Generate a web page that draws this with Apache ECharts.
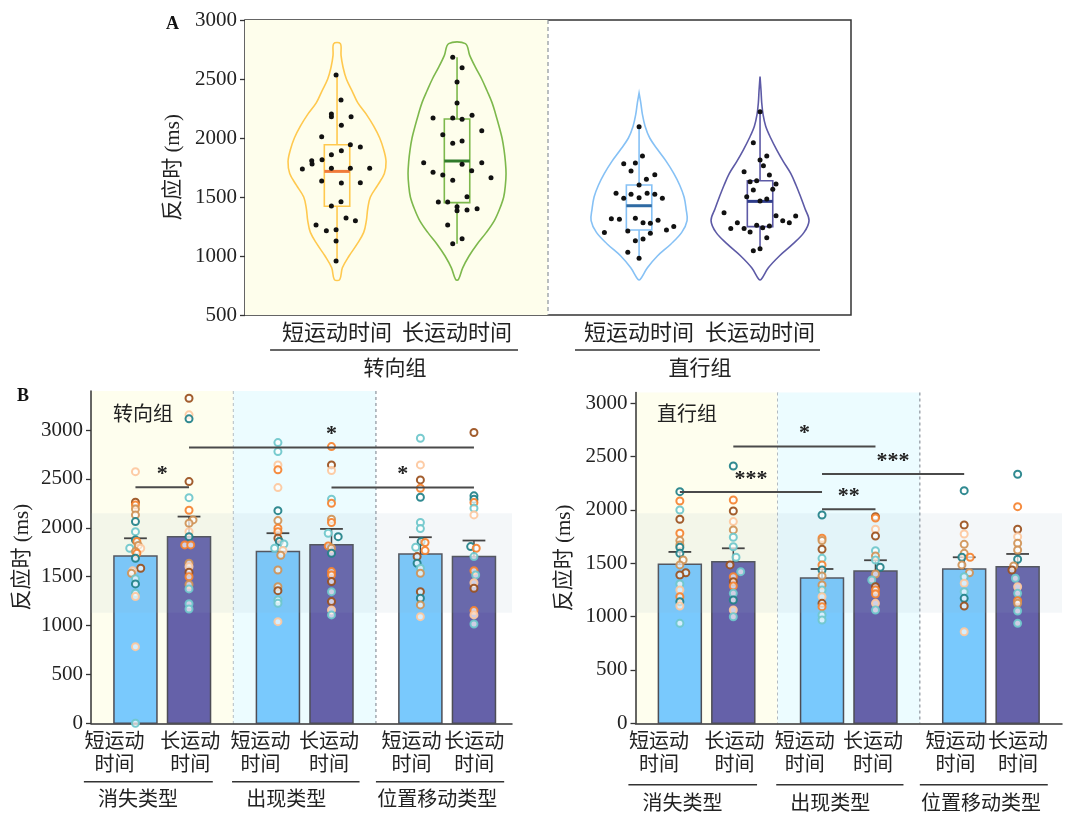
<!DOCTYPE html>
<html><head><meta charset="utf-8">
<script src="https://cdn.jsdelivr.net/npm/echarts@6/dist/echarts.min.js"></script>
<style>html,body{margin:0;padding:0;background:#fff}#c{width:1067px;height:814px}</style>
</head><body><div id="c"></div>
<script>
// ================= DATA =================
// Panel A
const violinCategories = ['短运动时间', '长运动时间', '短运动时间', '长运动时间'];
const violinGroups = ['转向组', '直行组'];
// violin outlines: [反应时 ms, relative half-width]
const violinProfile1 = [[2800,10],[2700,12],[2600,18],[2500,28],[2400,45],[2300,62],[2200,88],[2100,110],[2000,128],[1900,140],[1800,147],[1700,142],[1600,122],[1500,100],[1400,92],[1300,88],[1200,80],[1100,60],[1000,36],[900,16],[800,8]];
const violinProfile2 = [[2800,25],[2700,38],[2600,55],[2500,74],[2400,90],[2300,105],[2200,116],[2100,126],[2000,135],[1900,141],[1800,145],[1700,147],[1600,145],[1500,140],[1400,128],[1300,112],[1200,88],[1100,60],[1000,36],[900,17],[800,4]];
const violinProfile3 = [[2380,0],[2300,5],[2200,10],[2100,18],[2000,32],[1900,56],[1800,82],[1700,104],[1600,122],[1500,135],[1400,141],[1300,144],[1200,128],[1100,95],[1000,55],[900,25],[800,3]];
const violinProfile4 = [[2520,0],[2400,3],[2300,5],[2200,9],[2100,17],[2000,32],[1900,50],[1800,70],[1700,92],[1600,108],[1500,122],[1400,135],[1300,147],[1200,132],[1100,98],[1000,58],[900,25],[800,3]];
// box stats: [min, Q1, median, Q3, max]
const boxStats = [[958,1421,1717,1943,2534],[1104,1452,1805,2161,2684],[980,1220,1426,1602,2096],[1045,1249,1463,1638,2223]];
// individual points: [反应时 ms, jitter (category units)]
const violinPoints1 = [[2534,-0.008],[2322,0.033],[2203,-0.047],[2181,-0.047],[2181,0.117],[2107,0.036],[2011,-0.128],[1943,0.111],[1924,0.194],[1893,0.036],[1859,-0.047],[1808,-0.211],[1780,-0.208],[1816,-0.125],[1737,-0.289],[1743,-0.047],[1743,0.111],[1743,0.272],[1636,-0.128],[1619,0.036],[1621,0.194],[1460,0.033],[1424,-0.047],[1322,0.075],[1299,0.153],[1263,-0.175],[1215,-0.089],[1223,-0.008],[1127,-0.008],[958,-0.008]];
const violinPoints2 = [[2684,-0.036],[2596,0.042],[2475,0],[2297,0],[2169,-0.2],[2169,-0.036],[2158,0.042],[2192,0.125],[2062,0.206],[2028,-0.119],[1955,-0.036],[1975,0.042],[1791,-0.278],[1777,0.042],[1791,0.206],[1709,-0.2],[1686,-0.119],[1723,0.122],[1664,0.283],[1641,-0.036],[1503,0.083],[1458,-0.156],[1458,-0.078],[1418,0],[1384,0],[1390,0.083],[1401,0.167],[1263,-0.078],[1147,0.042],[1104,-0.036]];
const violinPoints3 = [[2096,0],[1847,0.028],[1782,-0.128],[1788,-0.031],[1720,-0.067],[1689,0.131],[1650,0.061],[1602,0],[1531,-0.192],[1489,-0.128],[1523,-0.067],[1494,0],[1531,0.067],[1523,0.131],[1489,0.194],[1316,-0.231],[1311,-0.164],[1319,-0.031],[1282,0.033],[1277,0.094],[1302,0.158],[1200,-0.289],[1212,-0.094],[1192,0.094],[1220,0.228],[1251,0.289],[1130,-0.031],[1144,0.033],[1031,-0.094],[980,0]];
const violinPoints4 = [[2223,0],[1960,-0.056],[1847,0.056],[1814,0],[1765,0.028],[1715,-0.133],[1686,0.078],[1630,-0.083],[1638,-0.028],[1610,0.133],[1559,-0.056],[1565,0.106],[1503,-0.111],[1483,0.056],[1466,0],[1367,-0.3],[1342,0.133],[1282,-0.189],[1299,0.189],[1282,0.244],[1339,0.297],[1234,-0.244],[1232,-0.133],[1203,-0.083],[1260,-0.028],[1240,0.022],[1254,0.078],[1155,0.056],[1045,-0.056],[1062,0]];

// Panel B
const barTickLabels = ['短运动\n时间', '长运动\n时间', '短运动\n时间', '长运动\n时间', '短运动\n时间', '长运动\n时间'];
const changeTypes = ['消失类型', '出现类型', '位置移动类型'];
const turnMeans = [1712, 1910, 1757, 1828, 1733, 1706];
const turnSE = [181, 205, 188, 161, 171, 164];
const straightMeans = [1490, 1515, 1362, 1427, 1446, 1468];
const straightSE = [116, 125, 84, 101, 110, 119];
// significance: [bar a, bar b, height ms, label]
const turnSig = [[0, 1, 2416, '*'], [1, 5, 2821, '*'], [3, 5, 2412, '*']];
const straightSig = [[0, 2, 2168, '***'], [1, 3, 2593, '*'], [2, 3, 2005, '**'], [2, 4, 2337, '***']];
// individual points per bar: [反应时 ms, colour group, jitter]
const turnPoints = [
  [[2575,3,0],[2262,4,0],[2234,2,0],[2193,5,0],[2132,5,0],[2064,0,0],[1961,1,0],[1876,0,0],[1859,2,0.01],[1820,5,0.02],[1791,1,-0.04],[1791,3,0.037],[1757,5,0],[1740,2,0.01],[1689,0,0],[1587,4,0.037],[1560,3,-0.02],[1535,5,-0.028],[1480,1,0],[1426,0,0],[1331,1,0],[1297,3,0],[784,3,0],[0,1,0]],
  [[3326,4,0],[3156,3,0],[3115,0,0],[2473,4,0],[2309,1,0],[2180,2,0],[2081,5,0.028],[2047,5,0],[1961,3,0],[1910,0,0],[1825,2,-0.03],[1825,2,0.012],[1638,5,0],[1603,3,0],[1546,4,0],[1500,2,0],[1420,5,0],[1375,1,0],[1224,1,0],[1170,1,0]],
  [[2872,1,0],[2780,1,0],[2644,3,0],[2593,2,0],[2412,3,0],[2176,0,0],[2074,5,0],[1996,2,0],[1961,2,0],[1893,4,0],[1860,0,0.01],[1835,1,0.042],[1791,1,-0.023],[1767,3,0.035],[1720,5,0.02],[1569,5,0],[1398,5,0],[1357,4,0],[1262,1,0],[1228,1,0],[1040,3,0]],
  [[2831,2,0],[2644,4,0],[2586,3,0],[2293,1,0],[2252,2,0],[2088,5,0],[2054,2,0],[1945,1,-0.023],[1910,0,0.047],[1815,2,-0.023],[1791,5,0],[1740,0,0],[1552,2,0],[1518,2,0],[1450,4,0],[1347,1,0],[1245,4,0],[1160,3,0],[1109,1,0]],
  [[2917,1,0],[2644,3,0],[2490,4,0],[2405,2,0],[2313,0,0],[2054,1,0],[1992,1,0],[1859,0,0.005],[1801,1,-0.033],[1850,2,0.033],[1767,2,0.033],[1706,4,-0.023],[1638,0,-0.023],[1587,1,0],[1535,5,0],[1347,4,0],[1279,0,0],[1211,5,0],[1091,3,0]],
  [[2975,4,0],[2327,0,0],[2293,0,0],[2258,2,0],[2200,1,0],[2132,3,0],[1808,0,-0.023],[1791,2,0.016],[1706,1,0],[1562,2,0],[1518,1,0.012],[1439,3,0],[1382,4,0],[1153,2,0],[1109,3,0],[1016,1,0]]
];
const straightPoints = [
  [[2171,0,0],[2083,2,0],[1999,1,0],[1912,4,0],[1781,2,0],[1712,5,0],[1671,5,0],[1649,0,0],[1593,0,0],[1530,5,0.023],[1484,5,0],[1411,4,0.042],[1390,4,0],[1306,1,0],[1249,3,0],[1187,2,0],[1140,0,0],[1099,3,0],[937,1,0]],
  [[2411,0,0],[2093,2,0],[1990,4,0],[1890,3,0],[1812,5,0],[1743,1,0],[1655,1,0],[1556,1,0.019],[1484,4,-0.023],[1421,1,0.052],[1374,2,0],[1327,4,0],[1287,2,0],[1218,1,0],[1156,0,0],[1062,3,0],[999,1,0]],
  [[1952,0,0],[1734,2,0],[1712,5,0],[1631,4,0],[1546,1,0],[1484,2,0],[1437,0,0],[1380,5,0],[1296,5,0],[1249,1,0],[1187,3,0],[1124,4,0],[1093,2,0],[1015,1,0],[968,1,0]],
  [[1936,4,0],[1924,2,0],[1818,3,0],[1755,4,0],[1618,1,0],[1568,5,0],[1530,1,0],[1462,0,0.033],[1399,5,0],[1343,1,-0.026],[1280,4,0],[1249,2,0],[1212,2,0],[1124,3,0],[1062,1,0]],
  [[2180,0,0],[1858,4,0],[1774,3,0],[1677,5,0],[1593,5,0],[1556,0,-0.016],[1556,2,0.042],[1484,5,-0.016],[1411,5,0.037],[1374,1,0],[1312,3,0],[1233,1,0],[1171,0,0],[1099,4,0],[858,3,0]],
  [[2334,0,0],[2030,2,0],[1818,4,0],[1749,3,0],[1687,5,0],[1624,5,0],[1537,0,0],[1474,5,-0.028],[1437,4,-0.04],[1359,1,-0.016],[1280,3,0],[1218,1,0],[1149,2,0],[1124,5,0],[1052,1,0],[937,1,0]]
];
const yTicksA = [500, 1000, 1500, 2000, 2500, 3000];
const yTicksB = [0, 500, 1000, 1500, 2000, 2500, 3000];

// ================= LAYOUT / STYLE =================
const FONT = "'Liberation Serif','Noto Sans CJK SC',serif";
const A_X = [1, 2, 3.517, 4.525];
const A_MIN = 0.233, A_MAX = 5.283, A_SPLIT = 2.758;
const A_BRACKETS = [[0.442, 2.508, 1.483], [2.983, 5.025, 4.025]];
const VW = 1 / 360;
const BOX_HW = 0.106;
const violinColors = ['#ffc94f', '#7db84c', '#86c1f5', '#5d5aa6'];
const medianColors = ['#f07b3b', '#2f7a2a', '#2e6aa3', '#2e3c8a'];
const BAR_X = [0.312, 0.688, 1.312, 1.688, 2.312, 2.688];
const BAR_W = 0.302;
const LABEL_X = [0.165, 0.697, 1.19, 1.67, 2.25, 2.69];
const B_BRACKETS = [[-0.05, 0.855, 0.33], [0.99, 1.885, 1.37], [2.0, 2.9, 2.43]];
const barColors = ['#79c9fd', '#6561a9'];
const dotColors = ['#1f8088', '#6ec7cb', '#f5822f', '#fdc89e', '#9a4f1c', '#cf9256'];

const violinProfiles = [violinProfile1, violinProfile2, violinProfile3, violinProfile4];
const violinPoints = [violinPoints1, violinPoints2, violinPoints3, violinPoints4];

function nearestLabel(list, pos, v) {
  let best = 0, bd = 1e9;
  pos.forEach((p, i) => { const d = Math.abs(p - v); if (d < bd) { bd = d; best = i; } });
  return list[best];
}

const series = [];
// ---------- Panel A ----------
series.push({
  type: 'custom', xAxisIndex: 0, yAxisIndex: 0, silent: true, z: 0,
  data: [[A_MIN, A_SPLIT]],
  renderItem(params, api) {
    const p0 = api.coord([api.value(0), 3000]);
    const p1 = api.coord([api.value(1), 500]);
    return {
      type: 'group', children: [
        { type: 'rect', shape: { x: p0[0], y: p0[1], width: p1[0] - p0[0], height: p1[1] - p0[1] }, style: { fill: '#fefeec' } },
        { type: 'line', shape: { x1: p1[0], y1: p0[1], x2: p1[0], y2: p1[1] }, style: { stroke: '#8c939c', lineWidth: 1.2, lineDash: [4, 3] } }
      ]
    };
  }
});
series.push({
  type: 'custom', xAxisIndex: 0, yAxisIndex: 0, silent: true, z: 2,
  data: A_X.map((x, i) => [x, i]),
  renderItem(params, api) {
    const i = params.dataIndex, xc = api.value(0);
    const prof = violinProfiles[i];
    const pts = [];
    prof.forEach(([v, w]) => pts.push(api.coord([xc + w * VW, v])));
    for (let k = prof.length - 1; k >= 0; k--) pts.push(api.coord([xc - prof[k][1] * VW, prof[k][0]]));
    const s = boxStats[i];
    const tl = api.coord([xc - BOX_HW, s[3]]), br = api.coord([xc + BOX_HW, s[1]]);
    const cMin = api.coord([xc, s[0]]), cMax = api.coord([xc, s[4]]);
    const m0 = api.coord([xc - BOX_HW, s[2]]), m1 = api.coord([xc + BOX_HW, s[2]]);
    const col = violinColors[i];
    return {
      type: 'group', children: [
        { type: 'polygon', shape: { points: pts, smooth: 0.35 }, style: { fill: 'none', stroke: col, lineWidth: 1.6 } },
        { type: 'line', shape: { x1: cMax[0], y1: cMax[1], x2: cMax[0], y2: tl[1] }, style: { stroke: col, lineWidth: 1.6 } },
        { type: 'line', shape: { x1: cMin[0], y1: br[1], x2: cMin[0], y2: cMin[1] }, style: { stroke: col, lineWidth: 1.6 } },
        { type: 'rect', shape: { x: tl[0], y: tl[1], width: br[0] - tl[0], height: br[1] - tl[1] }, style: { fill: 'none', stroke: col, lineWidth: 1.6 } },
        { type: 'line', shape: { x1: m0[0], y1: m0[1], x2: m1[0], y2: m1[1] }, style: { stroke: medianColors[i], lineWidth: 3 } }
      ]
    };
  }
});
series.push({
  type: 'scatter', xAxisIndex: 0, yAxisIndex: 0, z: 5, symbolSize: 5, silent: true,
  itemStyle: { color: '#111', opacity: 1 },
  data: violinPoints.flatMap((pts, i) => pts.map(([v, dx]) => [A_X[i] + dx, v]))
});
series.push({
  type: 'custom', xAxisIndex: 0, yAxisIndex: 0, silent: true, clip: false, z: 5,
  data: A_BRACKETS,
  renderItem(params, api) {
    const a = api.coord([api.value(0), 500]), b = api.coord([api.value(1), 500]), c = api.coord([api.value(2), 500]);
    return {
      type: 'group', children: [
        { type: 'line', shape: { x1: a[0], y1: a[1] + 35, x2: b[0], y2: b[1] + 35 }, style: { stroke: '#333', lineWidth: 1.5 } },
        { type: 'text', x: c[0], y: c[1] + 54, style: { text: violinGroups[params.dataIndex], fontSize: 21, fontFamily: FONT, fill: '#222', align: 'center', verticalAlign: 'middle' } }
      ]
    };
  }
});

// ---------- Panel B builder ----------
function buildB(ax, yMax, means, se, sig, points, bandLo, bandHi, brOff) {
  series.push({
    type: 'custom', xAxisIndex: ax, yAxisIndex: ax, silent: true, z: 0,
    data: [[0, 1, 0], [1, 2, 1]],
    renderItem(params, api) {
      const p0 = api.coord([api.value(0), yMax]);
      const p1 = api.coord([api.value(1), 0]);
      return {
        type: 'group', children: [
          { type: 'rect', shape: { x: p0[0], y: p0[1], width: p1[0] - p0[0], height: p1[1] - p0[1] }, style: { fill: params.dataIndex === 0 ? '#fefeee' : '#ecfcff' } },
          { type: 'line', shape: { x1: p1[0], y1: p0[1], x2: p1[0], y2: p1[1] }, style: { stroke: '#8c939c', lineWidth: 1.2, lineDash: [3, 3] } }
        ]
      };
    }
  });
  series.push({
    type: 'custom', xAxisIndex: ax, yAxisIndex: ax, silent: true, z: 2,
    data: means.map((m, i) => [BAR_X[i], m, se[i]]),
    renderItem(params, api) {
      const i = params.dataIndex, xc = api.value(0), m = api.value(1);
      const tl = api.coord([xc - BAR_W / 2, m]), br = api.coord([xc + BAR_W / 2, 0]);
      return { type: 'rect', shape: { x: tl[0], y: tl[1], width: br[0] - tl[0], height: br[1] - tl[1] }, style: { fill: barColors[i % 2], stroke: '#4d4d55', lineWidth: 1.5 } };
    }
  });
  series.push({
    type: 'custom', xAxisIndex: ax, yAxisIndex: ax, silent: true, z: 3,
    data: [[bandLo, bandHi]],
    renderItem(params, api) {
      const p0 = api.coord([0, api.value(1)]);
      const p1 = api.coord([0, api.value(0)]);
      const w = params.coordSys;
      return { type: 'rect', shape: { x: w.x, y: p0[1], width: w.width, height: p1[1] - p0[1] }, style: { fill: 'rgba(150,172,195,0.10)' } };
    }
  });
  series.push({
    type: 'custom', xAxisIndex: ax, yAxisIndex: ax, silent: true, z: 4,
    data: means.map((m, i) => [BAR_X[i], m, se[i]]),
    renderItem(params, api) {
      const xc = api.value(0), m = api.value(1), e = api.value(2);
      const a = api.coord([xc, m]), b = api.coord([xc, m + e]);
      const c0 = api.coord([xc - 0.08, m + e]), c1 = api.coord([xc + 0.08, m + e]);
      return {
        type: 'group', children: [
          { type: 'line', shape: { x1: a[0], y1: a[1], x2: b[0], y2: b[1] }, style: { stroke: '#444', lineWidth: 1.5 } },
          { type: 'line', shape: { x1: c0[0], y1: c0[1], x2: c1[0], y2: c1[1] }, style: { stroke: '#444', lineWidth: 1.8 } }
        ]
      };
    }
  });
  series.push({
    type: 'scatter', xAxisIndex: ax, yAxisIndex: ax, silent: true, z: 5, symbolSize: 7,
    data: points.flatMap((pts, i) => pts.map(([v, c, dx]) => ({
      value: [BAR_X[i] + dx, v],
      itemStyle: { color: 'rgba(255,255,255,0.75)', borderColor: dotColors[c], borderWidth: 2, opacity: 0.92 }
    })))
  });
  series.push({
    type: 'custom', xAxisIndex: ax, yAxisIndex: ax, silent: true, z: 6, clip: false,
    data: sig.map(s => [BAR_X[s[0]], BAR_X[s[1]], s[2]]),
    renderItem(params, api) {
      const a = api.coord([api.value(0), api.value(2)]), b = api.coord([api.value(1), api.value(2)]);
      return {
        type: 'group', children: [
          { type: 'line', shape: { x1: a[0], y1: a[1], x2: b[0], y2: b[1] }, style: { stroke: '#4a4a4a', lineWidth: 2 } },
          { type: 'text', x: (a[0] + b[0]) / 2, y: a[1] - 2, style: { text: sig[params.dataIndex][3], fontSize: 22, fontWeight: 'bold', fontFamily: FONT, fill: '#222', align: 'center', verticalAlign: 'bottom' } }
        ]
      };
    }
  });
  series.push({
    type: 'custom', xAxisIndex: ax, yAxisIndex: ax, silent: true, z: 6, clip: false,
    data: B_BRACKETS,
    renderItem(params, api) {
      const a = api.coord([api.value(0), 0]), b = api.coord([api.value(1), 0]), c = api.coord([api.value(2), 0]);
      return {
        type: 'group', children: [
          { type: 'line', shape: { x1: a[0], y1: a[1] + brOff[0], x2: b[0], y2: b[1] + brOff[0] }, style: { stroke: '#333', lineWidth: 1.5 } },
          { type: 'text', x: c[0], y: c[1] + brOff[1], style: { text: changeTypes[params.dataIndex], fontSize: 20, fontFamily: FONT, fill: '#222', align: 'center', verticalAlign: 'middle' } }
        ]
      };
    }
  });
}
buildB(1, 3400, turnMeans, turnSE, turnSig, turnPoints, 1130, 2150, [58.5, 77]);
buildB(2, 3100, straightMeans, straightSE, straightSig, straightPoints, 1037, 1968, [61.5, 81]);

const numText = { fontSize: 21, fontFamily: FONT, color: '#222' };
const nameText = { fontSize: 21, fontFamily: FONT, color: '#222' };
const plainNum = v => String(v);
function yAxisB(gi, yMax, gap) {
  return {
    gridIndex: gi, type: 'value', min: 0, max: yMax, interval: 500,
    name: '反应时 (ms)', nameLocation: 'middle', nameGap: gap, nameTextStyle: nameText,
    axisLine: { show: true, lineStyle: { color: '#333', width: 1.5 } },
    axisTick: { show: true, inside: false, length: 5, lineStyle: { color: '#333', width: 1.3 }, customValues: yTicksB },
    axisLabel: Object.assign({ margin: 8, customValues: yTicksB, formatter: plainNum }, numText),
    splitLine: { show: false }
  };
}
function xAxisB(gi, max) {
  return {
    gridIndex: gi, type: 'value', min: 0, max: max,
    axisLine: { show: true, onZero: false, lineStyle: { color: '#333', width: 1.5 } },
    axisTick: { show: false },
    splitLine: { show: false },
    axisLabel: {
      margin: 8, lineHeight: 23, customValues: LABEL_X, fontSize: 20, fontFamily: FONT, color: '#222',
      interval: 0, hideOverlap: false, showMinLabel: true, showMaxLabel: true,
      formatter: v => nearestLabel(barTickLabels, LABEL_X, v)
    }
  };
}

const option = {
  backgroundColor: '#fff',
  animation: false,
  title: [
    { text: 'A', left: 161, top: 10, textStyle: { fontSize: 18, fontWeight: 'bold', fontFamily: FONT, color: '#111' } },
    { text: 'B', left: 12, top: 382, textStyle: { fontSize: 18, fontWeight: 'bold', fontFamily: FONT, color: '#111' } },
    { text: '转向组', left: 108, top: 401, textStyle: { fontSize: 20, fontWeight: 'normal', fontFamily: FONT, color: '#222' } },
    { text: '直行组', left: 652, top: 401, textStyle: { fontSize: 20, fontWeight: 'normal', fontFamily: FONT, color: '#222' } }
  ],
  grid: [
    { left: 245, top: 20, width: 606, height: 295, show: true, borderColor: '#333', borderWidth: 1.5, backgroundColor: 'transparent', containLabel: false },
    { left: 91, top: 391, width: 421, height: 332.3, containLabel: false },
    { left: 635.5, top: 392.5, width: 426.5, height: 330.8, containLabel: false }
  ],
  xAxis: [
    {
      gridIndex: 0, type: 'value', min: A_MIN, max: A_MAX,
      axisLine: { show: false }, axisTick: { show: false }, splitLine: { show: false },
      axisLabel: { margin: 8, customValues: A_X, fontSize: 22, fontFamily: FONT, color: '#222', interval: 0, hideOverlap: false, formatter: v => nearestLabel(violinCategories, A_X, v) }
    },
    xAxisB(1, 2.955),
    xAxisB(2, 3.0)
  ],
  yAxis: [
    {
      gridIndex: 0, type: 'value', min: 500, max: 3000, interval: 500,
      name: '反应时 (ms)', nameLocation: 'middle', nameGap: 55, nameTextStyle: nameText,
      axisLine: { show: false },
      axisTick: { show: true, inside: false, length: 5, lineStyle: { color: '#333', width: 1.3 }, customValues: yTicksA },
      axisLabel: Object.assign({ margin: 8, customValues: yTicksA, formatter: plainNum }, numText),
      splitLine: { show: false }
    },
    yAxisB(1, 3400, 58),
    yAxisB(2, 3100, 61)
  ],
  series: series
};
const chart = echarts.init(document.getElementById('c'), null, { renderer: 'canvas' });
chart.setOption(option);
</script>
</body></html>
